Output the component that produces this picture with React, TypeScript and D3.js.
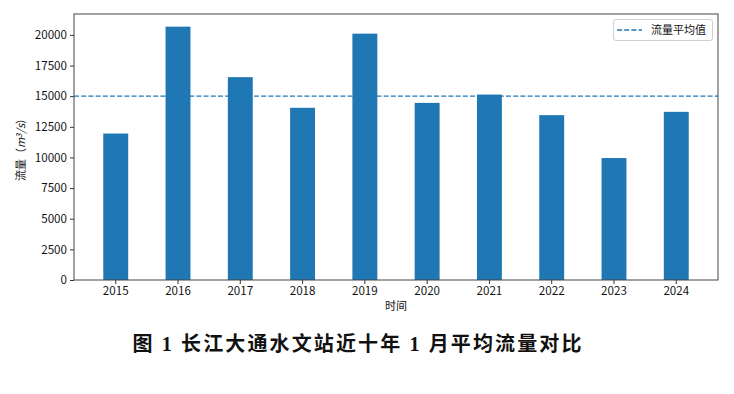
import * as d3 from "d3";
import { useEffect, useRef } from "react";

// 长江大通水文站 1 月平均流量 (m³/s)
const years = ["2015", "2016", "2017", "2018", "2019", "2020", "2021", "2022", "2023", "2024"];
const flows = [11950, 20670, 16550, 14050, 20100, 14450, 15130, 13450, 9950, 13720];
const yTicks = [0, 2500, 5000, 7500, 10000, 12500, 15000, 17500, 20000];

const W = 734;
const H = 394;
const FONT = "'Noto Sans CJK SC', 'Liberation Sans', sans-serif";

function App() {
    const ref = useRef<SVGSVGElement>(null);

    useEffect(() => {
        const margin = { top: 14, right: 16, bottom: 114, left: 74 };
        const x0 = margin.left, x1 = W - margin.right;
        const y0 = H - margin.bottom, y1 = margin.top;

        const svg = d3.select(ref.current);
        svg.selectAll("*").remove();

        const x = d3.scaleBand<string>()
            .domain(years)
            .range([x0, x1])
            .paddingInner(0.6)
            .paddingOuter(0.47);

        const y = d3.scaleLinear()
            .domain([0, d3.max(flows)! * 1.05])
            .range([y0, y1]);

        const mean = d3.mean(flows)!;

        // bars
        svg.append("g")
            .selectAll("rect")
            .data(flows)
            .enter()
            .append("rect")
            .attr("x", (_, i) => x(years[i])!)
            .attr("y", d => y(d))
            .attr("width", x.bandwidth())
            .attr("height", d => y0 - y(d))
            .attr("fill", "#1f77b4");

        // mean line
        svg.append("line")
            .attr("x1", x0).attr("x2", x1)
            .attr("y1", y(mean)).attr("y2", y(mean))
            .attr("stroke", "#1f77b4")
            .attr("stroke-width", 1.4)
            .attr("stroke-dasharray", "5,2.2");

        // axes
        const xAxis = svg.append("g")
            .attr("transform", `translate(0,${y0})`)
            .call(d3.axisBottom(x).tickSizeInner(4).tickSizeOuter(0).tickPadding(3));
        const yAxis = svg.append("g")
            .attr("transform", `translate(${x0},0)`)
            .call(d3.axisLeft(y).tickValues(yTicks).tickFormat(d3.format("d")).tickSizeInner(4).tickSizeOuter(0).tickPadding(3));
        [xAxis, yAxis].forEach(g => {
            g.select(".domain").remove();
            g.selectAll("line").attr("stroke", "#333");
            g.selectAll("text").attr("font-family", FONT).attr("font-size", 11.6).attr("fill", "#111");
        });

        // frame
        svg.append("rect")
            .attr("x", x0).attr("y", y1)
            .attr("width", x1 - x0).attr("height", y0 - y1)
            .attr("fill", "none")
            .attr("stroke", "#444")
            .attr("stroke-width", 1);

        // x label
        svg.append("text")
            .attr("x", (x0 + x1) / 2).attr("y", 310)
            .attr("text-anchor", "middle")
            .attr("font-family", FONT).attr("font-size", 11).attr("fill", "#111")
            .text("时间");

        // y label
        const yl = svg.append("text")
            .attr("transform", `translate(25,${(y0 + y1) / 2}) rotate(-90)`)
            .attr("text-anchor", "middle")
            .attr("font-family", FONT).attr("font-size", 11).attr("fill", "#111");
        yl.append("tspan").text("流量（");
        yl.append("tspan").attr("font-style", "italic").text("m");
        yl.append("tspan").attr("font-style", "italic").attr("font-size", 8).attr("baseline-shift", "40%").text("3");
        yl.append("tspan").attr("font-style", "italic").text("/s");
        yl.append("tspan").text("）");

        // legend
        const lg = svg.append("g");
        lg.append("rect")
            .attr("x", 613.5).attr("y", 19.5)
            .attr("width", 99).attr("height", 21)
            .attr("rx", 2.5)
            .attr("fill", "white")
            .attr("stroke", "#d0d0d0");
        lg.append("line")
            .attr("x1", 617).attr("x2", 642)
            .attr("y1", 30).attr("y2", 30)
            .attr("stroke", "#1f77b4")
            .attr("stroke-width", 1.4)
            .attr("stroke-dasharray", "5,2.2");
        lg.append("text")
            .attr("x", 651).attr("y", 34)
            .attr("font-family", FONT).attr("font-size", 11).attr("fill", "#111")
            .text("流量平均值");

        // caption
        svg.append("text")
            .attr("x", 357).attr("y", 351)
            .attr("text-anchor", "middle")
            .attr("font-family", "'Liberation Serif', 'Noto Sans CJK SC', serif")
            .attr("font-weight", "bold")
            .attr("font-size", 20)
            .attr("textLength", 449)
            .attr("lengthAdjust", "spacing")
            .attr("fill", "#111")
            .text("图 1  长江大通水文站近十年 1 月平均流量对比");
    }, []);

    return (
        <svg
            ref={ref}
            width={W}
            height={H}
            style={{ position: "absolute", left: 0, top: 0, background: "white" }}
        />
    );
}

export default App;
